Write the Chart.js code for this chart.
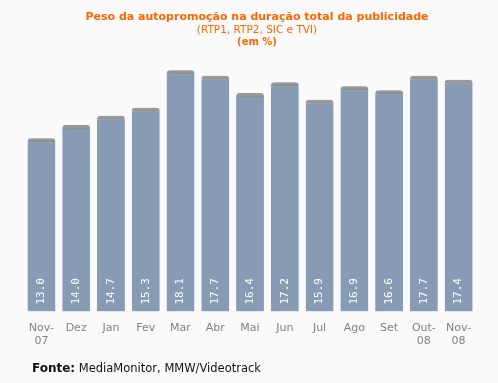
<!DOCTYPE html>
<html>
<head>
<meta charset="utf-8">
<script src="https://cdn.jsdelivr.net/npm/chart.js@4/dist/chart.umd.min.js"></script>
<style>
  html, body { margin: 0; padding: 0; background: #fafafa; }
  #wrap { width: 498px; height: 383px; }
</style>
</head>
<body>
<div id="wrap"><canvas id="barChart" width="498" height="383"></canvas></div>
<script>
const months = [["Nov-", "07"], "Dez", "Jan", "Fev", "Mar", "Abr", "Mai", "Jun", "Jul", "Ago", "Set", ["Out-", "08"], ["Nov-", "08"]];
const values = [13.0, 14.0, 14.7, 15.3, 18.1, 17.7, 16.4, 17.2, 15.9, 16.9, 16.6, 17.7, 17.4];
const titleLines = ["Peso da autopromoção na duração total da publicidade", "(RTP1, RTP2, SIC e TVI)", "(em %)"];
const sourceLabel = "Fonte:";
const sourceText = " MediaMonitor, MMW/Videotrack";

// title, footer, shadows and value labels
const decor = {
  id: "decor",
  beforeDraw(chart) {
    const c = chart.ctx;
    c.save();
    c.fillStyle = "#fafafa";
    c.fillRect(0, 0, chart.width, chart.height);
    c.textAlign = "center";
    c.textBaseline = "alphabetic";
    c.fillStyle = "#ff6600";
    c.font = "bold 11px 'DejaVu Sans'";
    c.fillText(titleLines[0], 257, 20);
    c.font = "10.5px 'DejaVu Sans'";
    c.fillText(titleLines[1], 257, 33);
    c.font = "bold 10px 'DejaVu Sans'";
    c.fillText(titleLines[2], 257, 45);
    c.textAlign = "left";
    c.fillStyle = "#111";
    c.font = "bold 12px 'DejaVu Sans'";
    c.fillText(sourceLabel, 32, 372);
    const w = c.measureText(sourceLabel).width;
    c.font = "11.5px 'DejaVu Sans'";
    c.fillText(sourceText, 32 + w, 372);
    c.restore();
  },
  beforeDatasetsDraw(chart) {
    const c = chart.ctx;
    c.save();
    c.shadowColor = "rgba(0,0,0,0.22)";
    c.shadowBlur = 3;
    c.shadowOffsetX = 2;
    c.shadowOffsetY = 0;
  },
  afterDatasetsDraw(chart) {
    const c = chart.ctx;
    c.restore();
    const meta = chart.getDatasetMeta(0);
    c.save();
    c.fillStyle = "#ffffff";
    c.font = "11px 'DejaVu Sans Mono'";
    c.textAlign = "left";
    c.textBaseline = "middle";
    meta.data.forEach((bar, i) => {
      c.save();
      c.translate(bar.x, bar.base - 7);
      c.rotate(-Math.PI / 2);
      c.fillText(values[i].toFixed(1), 0, 0);
      c.restore();
    });
    c.restore();
  }
};

const ctx = document.getElementById("barChart").getContext("2d");
new Chart(ctx, {
  type: "bar",
  data: {
    labels: months,
    datasets: [
      {
        data: values,
        backgroundColor: "#879cb4",
        borderColor: "#9a9a9a",
        borderWidth: { top: 4, left: 0, right: 0, bottom: 0 },
        borderRadius: { topLeft: 3, topRight: 3 },
        borderSkipped: "bottom",
        barPercentage: 0.8,
        categoryPercentage: 1,
      },
    ],
  },
  options: {
    responsive: false,
    animation: false,
    layout: { padding: { top: 45, left: 24, right: 22, bottom: 33 } },
    plugins: {
      legend: { display: false },
      tooltip: { enabled: false },
    },
    scales: {
      x: {
        grid: { display: false },
        border: { display: false },
        ticks: {
          color: "#808080",
          padding: 2,
          maxRotation: 0,
          autoSkip: false,
          font: { family: "DejaVu Sans", size: 11 },
        },
      },
      y: {
        display: false,
        min: 0,
        max: 20,
      },
    },
  },
  plugins: [decor],
});
</script>
</body>
</html>
